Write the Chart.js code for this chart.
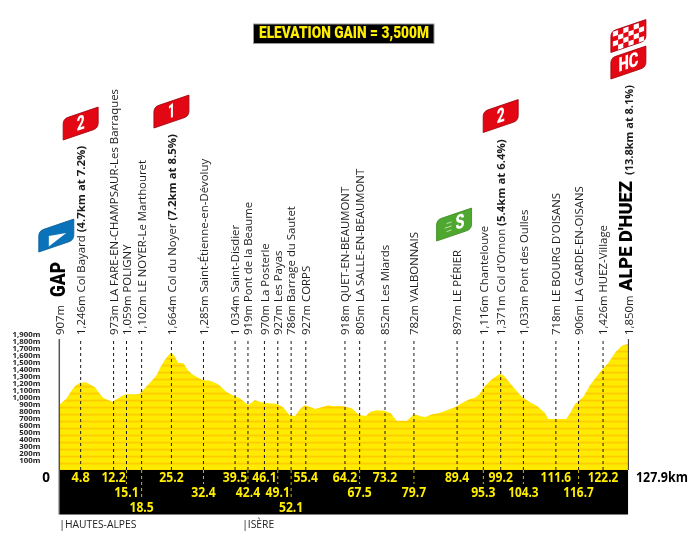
<!DOCTYPE html>
<html><head><meta charset="utf-8">
<style>html,body{margin:0;padding:0;background:#fff}#w{width:700px;height:549px;position:relative}</style>
<script src="https://cdn.jsdelivr.net/npm/chart.js@4/dist/chart.umd.min.js"></script>
</head><body><div id="w"><canvas id="c" width="700" height="549"></canvas></div>
<script>
const profileKm=[0,1.66,2.56,3.53,4.65,6,7.06,8.02,8.92,9.89,11,11.9,12.9,14,15,16.6,18,18.7,20.4,21.9,22.6,23.7,24.9,25.6,26.7,27.9,29,30.1,32.2,33.9,35.7,37.5,39.3,40.6,42.4,44,45.1,46.2,49,50.3,51.7,53,54.1,55.2,56.3,57.5,59.3,60.4,61.6,62.7,63.8,65.7,67.4,68.9,69.8,71.2,73,74.5,75.8,78.1,79.7,81.1,82.2,83.7,85.2,87.1,89,90.8,92.3,93.4,94.5,95.3,97.2,98.9,99.8,101.3,103.9,105.8,107.3,109.1,109.9,113.9,114.8,115.9,117.8,119.3,121.9,123.4,124.9,126.4,127.9];
const profileElev=[928,1024,1119,1200,1247,1253,1214,1181,1104,1029,1000,976,1010,1057,1081,1081,1086,1133,1250,1357,1453,1571,1667,1657,1533,1524,1419,1357,1286,1276,1224,1119,1057,1024,929,1000,971,961,943,896,786,771,871,924,904,871,904,924,910,914,910,881,786,771,829,853,847,810,704,704,796,771,753,796,810,853,900,967,1014,1033,1089,1176,1296,1371,1357,1239,1047,967,919,819,729,729,810,943,1047,1214,1429,1533,1676,1776,1804];
const passKm=[4.8,12.2,15.1,18.5,25.2,32.4,39.5,42.4,46.1,49.1,52.1,55.4,64.2,67.5,73.2,79.7,89.4,95.3,99.2,104.3,111.6,116.7,122.2];
const passKmText=["4.8","12.2","15.1","18.5","25.2","32.4","39.5","42.4","46.1","49.1","52.1","55.4","64.2","67.5","73.2","79.7","89.4","95.3","99.2","104.3","111.6","116.7","122.2"];
const passRow=[0,0,1,2,0,1,0,1,0,1,2,0,0,1,0,1,0,1,0,1,0,1,0];
const passText=["1,246m Col Bayard ","973m LA FARE-EN-CHAMPSAUR-Les Barraques","1,059m POLIGNY","1,102m LE NOYER-Le Marthouret","1,664m Col du Noyer ","1,285m Saint-Étienne-en-Dévoluy","1 034m Saint-Disdier","919m Pont de la Beaume","970m La Posterle","927m Les Payas","786m Barrage du Sautet","927m CORPS","918m QUET-EN-BEAUMONT","805m LA SALLE-EN-BEAUMONT","852m Les Miards","782m VALBONNAIS","897m LE PÉRIER","1,116m Chantelouve","1,371m Col d'Ornon ","1,033m Pont des Oulles","718m LE BOURG D'OISANS","906m LA GARDE-EN-OISANS","1,426m HUEZ-Village"];
const passBold=["(4.7km at 7.2%)","","","","(7.2km at 8.5%)","","","","","","","","","","","","","","(5.4km at 6.4%)","","","",""];
const startKm=0, endKm=127.9;
const startAlt="907m", startName="GAP", endAlt="1,850m", endName="ALPE D'HUEZ", endClimb="(13.8km at 8.1%)";
const gainText="ELEVATION GAIN = 3,500M";
const distanceEnd="127.9km", distanceStart="0";
const regionKm=[0,41.1];
const regionNames=["HAUTES-ALPES","ISÈRE"];
const badgeKm=[0,4.8,25.2,89.4,99.2,127.9,127.9];
const badgeKind=["start","2","1","S","2","HC","finish"];
const yMin=-700,yMax=2250;
const LABEL='"Open Sans"', HEAVY='Roboto';

const tile=document.createElement('canvas');tile.width=1;tile.height=7;
const t=tile.getContext('2d');t.fillStyle='#FFEB00';t.fillRect(0,0,1,7);
t.fillStyle='#FFE000';t.fillRect(0,0,1,1);t.fillStyle='#FFCC00';t.fillRect(0,1,1,1);t.fillStyle='#FFDC00';t.fillRect(0,2,1,1);
const stripes=t.createPattern(tile,'repeat');

function seg(x,a,b,color,dash,width,order){return {type:'line',data:[{x,y:a},{x,y:b}],borderColor:color,borderWidth:width,borderDash:dash,pointRadius:0,fill:false,order,clip:false};}
const datasets=[];
passKm.forEach((k,i)=>{
  datasets.push(seg(k,0,1871,'#1a1a1a',[3,3],1,1));
  if(passRow[i]>0) datasets.push(seg(k,0,passRow[i]==1?-200:-420,'#c9b800',[3,3],1,1));
});
datasets.push(seg(startKm,-636,1871,'#555',[],1.5,0));
datasets.push(seg(endKm,0,1871,'#333',[],1,0));
datasets.push({type:'line',data:profileKm.map((x,i)=>({x,y:profileElev[i]})),borderWidth:0,borderColor:'rgba(0,0,0,0)',backgroundColor:stripes,fill:'origin',pointRadius:0,tension:0,order:5});
datasets.push({type:'line',data:[{x:startKm,y:-636},{x:endKm,y:-636}],borderWidth:0,borderColor:'rgba(0,0,0,0)',backgroundColor:'#000',fill:{value:7},pointRadius:0,order:6});

function rot(ctx,x,y,fn){ctx.save();ctx.translate(x,y);ctx.rotate(-Math.PI/2);ctx.textAlign='left';ctx.textBaseline='alphabetic';fn();ctx.restore();}
function fit(ctx,text,x,y,W){const m=ctx.measureText(text).width;ctx.save();ctx.translate(x,y);ctx.scale(W/m,1);ctx.fillText(text,0,0);ctx.restore();}
function badge(ctx,cx,top,color,edge,draw){
  const w=35,h=21,s=-0.34;
  ctx.save();ctx.translate(cx-17.5,top);ctx.transform(1,s,0,1,0,0);
  const r=5;
  ctx.beginPath();ctx.moveTo(r,0);ctx.lineTo(w,0);ctx.lineTo(w,h-r);ctx.quadraticCurveTo(w,h,w-r,h);ctx.lineTo(0,h);ctx.lineTo(0,r);ctx.quadraticCurveTo(0,0,r,0);ctx.closePath();
  ctx.fillStyle=color;ctx.fill();
  ctx.lineWidth=.8;ctx.strokeStyle=edge;ctx.stroke();
  ctx.clip();
  draw(w,h);ctx.restore();
}
const overlay={id:'overlay',afterDatasetsDraw(chart){
  const ctx=chart.ctx,X=chart.scales.x,Y=chart.scales.y;
  const lab='11.4px '+LABEL, bold='bold 11.4px '+LABEL;
  const base=Y.getPixelForValue(1871)-4;
  ctx.save();
  passKm.forEach((k,i)=>{
    const x=X.getPixelForValue(k)+4.2;
    rot(ctx,x,base,()=>{ctx.fillStyle='#1c1c1c';ctx.font=lab;ctx.fillText(passText[i],0,0);
      if(passBold[i]){const w=ctx.measureText(passText[i]).width;ctx.font=bold;ctx.fillText(passBold[i],w,0);}});
  });
  const x0=X.getPixelForValue(startKm),x1=X.getPixelForValue(endKm);
  rot(ctx,x0+4.2,base,()=>{ctx.fillStyle='#1c1c1c';ctx.font=lab;ctx.fillText(startAlt,0,0);
    ctx.font='900 19.5px '+HEAVY;ctx.fillStyle='#000';ctx.textAlign='left';fit(ctx,startName,38,1,35);});
  rot(ctx,x1+4.2,base,()=>{ctx.fillStyle='#1c1c1c';ctx.font=lab;ctx.fillText(endAlt,0,0);
    ctx.font='900 18.5px '+HEAVY;ctx.fillStyle='#000';fit(ctx,endName,44,-.5,110);
    ctx.font=bold;ctx.fillStyle='#1c1c1c';fit(ctx,endClimb,160,0,90);});
  ctx.textAlign='center';ctx.textBaseline='middle';
  ctx.font='bold 13.5px '+LABEL;
  const rowY=[-115,-330,-545];
  passKm.forEach((k,i)=>{ctx.fillStyle='#FFEE00';fit(ctx,passKmText[i],X.getPixelForValue(k),Y.getPixelForValue(rowY[passRow[i]]),passKmText[i].length*6.1);});
  ctx.fillStyle='#000';ctx.font='bold 13.5px '+LABEL;
  ctx.fillText(distanceStart,46,Y.getPixelForValue(rowY[0]));
  ctx.textAlign='left';fit(ctx,distanceEnd,x1+7.5,Y.getPixelForValue(rowY[0]),52);
  ctx.font='10.3px '+LABEL;ctx.fillStyle='#222';ctx.textBaseline='middle';
  regionNames.forEach((n,i)=>{ctx.fillText('|'+n,X.getPixelForValue(regionKm[i]),525);});
  ctx.fillStyle='#000';ctx.strokeStyle='#999';ctx.lineWidth=1;ctx.fillRect(253.5,24,180.5,19.5);ctx.strokeRect(253.5,24,180.5,19.5);
  ctx.fillStyle='#FFEE00';ctx.font='900 17px '+HEAVY;ctx.textAlign='center';fit(ctx,gainText,344,34,170);
  const tops={start:231,'2a':119,'1':107,S:220,'2b':111.5,HC:58,finish:31.5};
  let twoSeen=0;
  badgeKm.forEach((k,i)=>{
    const kind=badgeKind[i],cx=X.getPixelForValue(k);
    const num=(w,h,s,W)=>{ctx.fillStyle='#fff';ctx.font='900 20px '+HEAVY;ctx.textAlign='center';ctx.textBaseline='middle';fit(ctx,s,w/2,h/2+1,W);};
    if(kind=='start') badge(ctx,cx-3,tops.start,'#0a72b8','#0a5f99',(w,h)=>{ctx.fillStyle='#fff';ctx.beginPath();ctx.moveTo(10,8.4);ctx.lineTo(27.4,11.3);ctx.lineTo(10,19);ctx.closePath();ctx.fill();});
    else if(kind=='S') badge(ctx,cx-3,tops.S,'#4ea72e','#3f8a25',(w,h)=>{num(w+12,h,'S',9);ctx.strokeStyle='#cfe8c2';ctx.lineWidth=.8;for(const [yy,l] of [[7,5],[11,7],[15,5]]){ctx.beginPath();ctx.moveTo(15-l,yy);ctx.lineTo(15,yy);ctx.stroke();}});
    else if(kind=='2'){twoSeen++;badge(ctx,cx,twoSeen==1?tops['2a']:tops['2b'],'#e30613','#a00510',(w,h)=>num(w,h,'2',8));}
    else if(kind=='1') badge(ctx,cx,tops['1'],'#e30613','#a00510',(w,h)=>num(w,h,'1',7));
    else if(kind=='HC') badge(ctx,cx,tops.HC,'#e30613','#a00510',(w,h)=>num(w,h,'HC',20));
    else badge(ctx,cx,tops.finish,'#e30613','#a00510',(w,h)=>{ctx.fillStyle='#fff';for(let a=0;a<6;a++)for(let b=0;b<4;b++){if((a+b)%2==0)ctx.fillRect(2+a*5.2,1+b*4.9,5.2,4.9);}});
  });
  ctx.restore();
}};
new Chart(document.getElementById('c'),{
  data:{datasets},
  options:{responsive:false,animation:false,devicePixelRatio:1,
    layout:{padding:{left:0,right:71.6,top:312.5,bottom:30}},
    plugins:{legend:{display:false},tooltip:{enabled:false},title:{display:false}},
    scales:{
      x:{type:'linear',min:startKm,max:endKm,display:false},
      y:{type:'linear',min:yMin,max:yMax,display:false},
      yt:{type:'linear',position:'left',min:yMin-28.6,max:yMax-28.6,
        afterFit(s){s.width=59.3;},
        grid:{display:false,drawTicks:false},border:{display:false},
        ticks:{stepSize:100,autoSkip:false,maxTicksLimit:100,padding:19,color:'#1c1c1c',font:{family:'"Open Sans"',size:7.8,weight:'bold'},
          callback(v){return (v>=100&&v<=1900&&Math.abs(v%100)<.01)?v.toLocaleString('en-US')+'m':null;}}}
    }},
  plugins:[overlay]
});
</script></body></html>
